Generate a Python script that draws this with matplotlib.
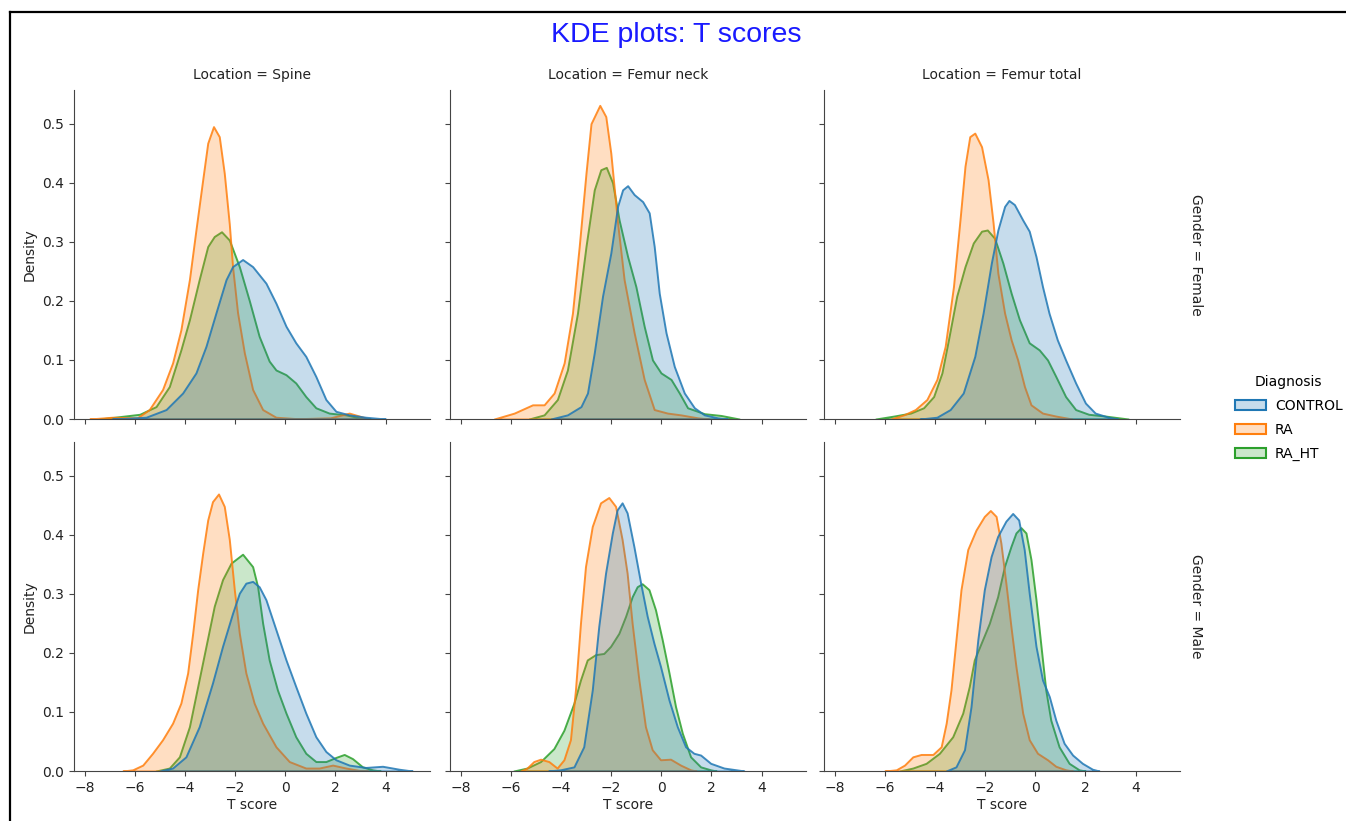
import matplotlib
matplotlib.use("Agg")
import matplotlib.pyplot as plt
from matplotlib.patches import Patch
from matplotlib.lines import Line2D
from matplotlib.colors import to_rgba

# ---------------- data ----------------
locations = ["Spine", "Femur neck", "Femur total"]
genders = ["Female", "Male"]
diagnoses = ["CONTROL", "RA", "RA_HT"]
colors = ["#1f77b4", "#ff7f0e", "#2ca02c"]

# Female, Spine
sf_control_x = [-6.9, -5.55, -4.75, -4.09, -3.56, -3.16, -2.76, -2.36, -2.1, -1.7, -1.3, -0.77, -0.37, 0.03, 0.42, 0.82, 1.22, 1.62, 2.02, 2.55, 3.21, 4.0]
sf_control_y = [0, 0.003, 0.016, 0.044, 0.078, 0.123, 0.18, 0.236, 0.258, 0.27, 0.258, 0.23, 0.196, 0.157, 0.129, 0.106, 0.072, 0.033, 0.013, 0.007, 0.003, 0]
sf_ra_x = [-7.8, -6.9, -5.9, -5.42, -4.89, -4.49, -4.16, -3.82, -3.56, -3.29, -3.09, -2.86, -2.63, -2.43, -2.23, -2.1, -1.9, -1.63, -1.3, -0.9, -0.37, 0.5, 1.8, 2.55, 3.35]
sf_ra_y = [0, 0.003, 0.002, 0.016, 0.05, 0.095, 0.151, 0.236, 0.32, 0.405, 0.467, 0.495, 0.478, 0.416, 0.33, 0.258, 0.18, 0.112, 0.05, 0.016, 0.003, 0.0005, 0.002, 0.01, 0]
sf_ht_x = [-7.4, -5.8, -5.15, -4.62, -4.16, -3.82, -3.43, -3.09, -2.83, -2.54, -2.23, -1.83, -1.43, -1.04, -0.64, -0.37, 0.03, 0.42, 0.82, 1.22, 1.75, 2.42, 2.95, 3.4]
sf_ht_y = [0, 0.008, 0.021, 0.055, 0.117, 0.168, 0.236, 0.292, 0.309, 0.317, 0.303, 0.258, 0.2, 0.14, 0.098, 0.083, 0.075, 0.061, 0.038, 0.019, 0.01, 0.007, 0.002, 0]

# Female, Femur neck
nf_control_x = [-4.4, -3.74, -3.2, -2.94, -2.67, -2.34, -2.01, -1.74, -1.54, -1.34, -1.08, -0.74, -0.48, -0.28, -0.08, 0.19, 0.52, 0.92, 1.32, 1.72, 2.25, 2.65]
nf_control_y = [0, 0.007, 0.021, 0.044, 0.112, 0.208, 0.281, 0.36, 0.388, 0.395, 0.38, 0.368, 0.349, 0.292, 0.213, 0.146, 0.089, 0.044, 0.019, 0.007, 0.002, 0]
nf_ra_x = [-6.66, -5.86, -5.13, -4.67, -4.27, -3.87, -3.54, -3.27, -3.0, -2.8, -2.45, -2.21, -2.01, -1.74, -1.48, -1.08, -0.68, -0.28, 0.25, 0.78, 1.45, 1.9]
nf_ra_y = [0, 0.01, 0.024, 0.024, 0.044, 0.095, 0.179, 0.292, 0.416, 0.5, 0.531, 0.512, 0.45, 0.332, 0.236, 0.146, 0.067, 0.016, 0.01, 0.007, 0.002, 0]
nf_ht_x = [-5.27, -4.67, -4.14, -3.74, -3.34, -3.0, -2.67, -2.41, -2.19, -1.94, -1.68, -1.34, -1.01, -0.68, -0.35, -0.01, 0.39, 0.72, 1.05, 1.72, 2.38, 3.11]
nf_ht_y = [0, 0.007, 0.033, 0.083, 0.179, 0.292, 0.388, 0.422, 0.426, 0.4, 0.337, 0.275, 0.224, 0.157, 0.1, 0.078, 0.067, 0.044, 0.019, 0.009, 0.006, 0]

# Female, Femur total
tf_control_x = [-4.6, -3.92, -3.39, -2.87, -2.41, -2.08, -1.75, -1.49, -1.22, -1.05, -0.83, -0.5, -0.24, 0.03, 0.29, 0.55, 0.88, 1.21, 1.61, 2.0, 2.39, 2.92, 3.3]
tf_control_y = [0, 0.003, 0.016, 0.044, 0.106, 0.179, 0.264, 0.32, 0.36, 0.37, 0.363, 0.337, 0.318, 0.275, 0.224, 0.179, 0.134, 0.1, 0.061, 0.027, 0.01, 0.003, 0]
tf_ra_x = [-5.76, -5.24, -4.78, -4.32, -3.92, -3.59, -3.26, -3.0, -2.8, -2.61, -2.41, -2.14, -1.88, -1.68, -1.49, -1.22, -0.96, -0.7, -0.43, -0.17, 0.29, 0.82, 1.47]
tf_ra_y = [0, 0.007, 0.016, 0.033, 0.067, 0.123, 0.224, 0.337, 0.428, 0.478, 0.484, 0.461, 0.405, 0.332, 0.247, 0.179, 0.134, 0.1, 0.055, 0.024, 0.01, 0.005, 0]
tf_ht_x = [-6.36, -5.63, -4.97, -4.45, -4.05, -3.72, -3.46, -3.13, -2.8, -2.47, -2.14, -1.91, -1.62, -1.29, -0.96, -0.63, -0.24, 0.16, 0.49, 0.82, 1.21, 1.61, 2.13, 2.79, 3.71]
tf_ht_y = [0, 0.005, 0.01, 0.019, 0.038, 0.078, 0.134, 0.208, 0.258, 0.298, 0.318, 0.32, 0.306, 0.264, 0.213, 0.168, 0.129, 0.117, 0.1, 0.072, 0.038, 0.016, 0.008, 0.005, 0]

# Male, Spine
sm_control_x = [-5.0, -4.49, -3.96, -3.43, -2.9, -2.5, -2.1, -1.83, -1.57, -1.3, -1.04, -0.77, -0.37, 0.03, 0.42, 0.82, 1.22, 1.62, 2.02, 2.55, 3.21, 3.88, 4.54, 5.07]
sm_control_y = [0, 0.005, 0.024, 0.075, 0.149, 0.211, 0.267, 0.301, 0.318, 0.321, 0.312, 0.29, 0.239, 0.188, 0.143, 0.098, 0.058, 0.033, 0.019, 0.01, 0.006, 0.008, 0.003, 0]
sm_ra_x = [-6.48, -6.08, -5.68, -5.29, -4.89, -4.49, -4.16, -3.89, -3.69, -3.49, -3.29, -3.09, -2.9, -2.66, -2.43, -2.23, -2.03, -1.83, -1.57, -1.24, -0.9, -0.37, 0.16, 0.82, 1.35, 1.89, 2.42, 2.95, 3.3]
sm_ra_y = [0, 0.002, 0.01, 0.03, 0.053, 0.081, 0.115, 0.166, 0.233, 0.307, 0.369, 0.425, 0.456, 0.469, 0.448, 0.392, 0.307, 0.233, 0.166, 0.115, 0.081, 0.041, 0.016, 0.005, 0.005, 0.01, 0.005, 0.001, 0]
sm_ht_x = [-5.15, -4.62, -4.22, -3.82, -3.49, -3.16, -2.83, -2.5, -2.16, -1.7, -1.3, -1.1, -0.9, -0.64, -0.31, 0.03, 0.42, 0.82, 1.22, 1.62, 2.02, 2.35, 2.68, 3.08, 3.48, 3.8]
sm_ht_y = [0, 0.005, 0.024, 0.075, 0.143, 0.211, 0.279, 0.324, 0.352, 0.367, 0.346, 0.312, 0.25, 0.188, 0.137, 0.098, 0.058, 0.03, 0.016, 0.016, 0.023, 0.028, 0.021, 0.007, 0.002, 0]

# Male, Femur neck
nm_control_x = [-4.5, -4.02, -3.48, -3.09, -2.75, -2.49, -2.22, -1.95, -1.76, -1.56, -1.36, -1.09, -0.82, -0.56, -0.29, -0.03, 0.31, 0.64, 0.97, 1.3, 1.57, 1.97, 2.5, 3.16, 3.3]
nm_control_y = [0, 0.002, 0.007, 0.041, 0.137, 0.245, 0.335, 0.403, 0.442, 0.454, 0.437, 0.38, 0.318, 0.262, 0.216, 0.177, 0.12, 0.075, 0.041, 0.03, 0.027, 0.013, 0.005, 0.001, 0]
nm_ra_x = [-5.61, -5.35, -5.08, -4.81, -4.48, -4.15, -3.88, -3.62, -3.42, -3.22, -3.02, -2.75, -2.42, -2.09, -1.82, -1.56, -1.36, -1.16, -0.89, -0.63, -0.36, -0.03, 0.37, 0.77, 1.17, 1.4]
nm_ra_y = [0, 0.005, 0.016, 0.02, 0.016, 0.005, 0.019, 0.053, 0.137, 0.25, 0.346, 0.414, 0.454, 0.463, 0.448, 0.392, 0.335, 0.25, 0.154, 0.075, 0.036, 0.019, 0.02, 0.01, 0.002, 0]
nm_ht_x = [-5.88, -5.35, -4.81, -4.28, -3.88, -3.48, -3.22, -2.95, -2.62, -2.29, -2.02, -1.69, -1.42, -1.16, -0.96, -0.76, -0.49, -0.23, 0.04, 0.31, 0.57, 0.84, 1.17, 1.57, 1.97, 2.2]
nm_ht_y = [0, 0.005, 0.016, 0.038, 0.069, 0.115, 0.154, 0.188, 0.197, 0.199, 0.211, 0.233, 0.262, 0.295, 0.312, 0.317, 0.307, 0.273, 0.222, 0.166, 0.109, 0.064, 0.024, 0.007, 0.002, 0]

# Male, Femur total
tm_control_x = [-3.55, -3.16, -2.82, -2.56, -2.29, -2.03, -1.76, -1.5, -1.17, -0.9, -0.66, -0.44, -0.24, 0.03, 0.29, 0.56, 0.82, 1.15, 1.49, 1.88, 2.28, 2.55]
tm_control_y = [0, 0.007, 0.036, 0.109, 0.222, 0.307, 0.363, 0.397, 0.423, 0.436, 0.425, 0.375, 0.301, 0.211, 0.154, 0.126, 0.086, 0.047, 0.027, 0.013, 0.003, 0]
tm_ra_x = [-6.0, -5.54, -5.21, -4.88, -4.55, -4.08, -3.75, -3.55, -3.36, -3.16, -2.96, -2.69, -2.36, -2.03, -1.79, -1.56, -1.37, -1.17, -0.97, -0.77, -0.5, -0.24, 0.09, 0.49, 0.82, 1.22, 1.5]
tm_ra_y = [0, 0.002, 0.01, 0.024, 0.028, 0.028, 0.041, 0.081, 0.137, 0.222, 0.307, 0.375, 0.408, 0.431, 0.441, 0.431, 0.386, 0.318, 0.245, 0.177, 0.098, 0.053, 0.03, 0.019, 0.008, 0.002, 0]
tm_ht_x = [-5.41, -4.88, -4.35, -3.82, -3.29, -2.89, -2.63, -2.43, -2.16, -1.83, -1.5, -1.23, -0.97, -0.77, -0.57, -0.37, -0.17, 0.03, 0.23, 0.42, 0.62, 0.95, 1.35, 1.75, 2.0]
tm_ht_y = [0, 0.005, 0.013, 0.03, 0.058, 0.098, 0.143, 0.188, 0.216, 0.25, 0.295, 0.346, 0.38, 0.403, 0.412, 0.403, 0.358, 0.29, 0.211, 0.137, 0.086, 0.041, 0.013, 0.002, 0]

x_ticks = [-8, -6, -4, -2, 0, 2, 4]
x_tick_labels = ["\u22128", "\u22126", "\u22124", "\u22122", "0", "2", "4"]
y_ticks = [0.0, 0.1, 0.2, 0.3, 0.4, 0.5]
y_tick_labels = ["0.0", "0.1", "0.2", "0.3", "0.4", "0.5"]

curves = {
    ("Female", "Spine"): [(sf_control_x, sf_control_y), (sf_ra_x, sf_ra_y), (sf_ht_x, sf_ht_y)],
    ("Female", "Femur neck"): [(nf_control_x, nf_control_y), (nf_ra_x, nf_ra_y), (nf_ht_x, nf_ht_y)],
    ("Female", "Femur total"): [(tf_control_x, tf_control_y), (tf_ra_x, tf_ra_y), (tf_ht_x, tf_ht_y)],
    ("Male", "Spine"): [(sm_control_x, sm_control_y), (sm_ra_x, sm_ra_y), (sm_ht_x, sm_ht_y)],
    ("Male", "Femur neck"): [(nm_control_x, nm_control_y), (nm_ra_x, nm_ra_y), (nm_ht_x, nm_ht_y)],
    ("Male", "Femur total"): [(tm_control_x, tm_control_y), (tm_ra_x, tm_ra_y), (tm_ht_x, tm_ht_y)],
}

# ---------------- figure ----------------
W, H = 1346, 821
plt.rcParams["font.family"] = ["DejaVu Sans"]
fig = plt.figure(figsize=(W / 100, H / 100), dpi=100)
small = 10
txt = "#222222"

lefts = [74, 450, 824]
tops = [90, 442]
aw, ah = 356, 329

for r, g in enumerate(genders):
    for c, loc in enumerate(locations):
        ax = fig.add_axes([lefts[c] / W, 1 - (tops[r] + ah) / H, aw / W, ah / H])
        for i in [2, 1, 0]:
            xs, ys = curves[(g, loc)][i]
            ax.fill_between(xs, 0, ys, facecolor=to_rgba(colors[i], 0.25),
                            edgecolor=to_rgba(colors[i], 0.85), linewidth=1.4)
        ax.set_xlim(-8.42, 5.77)
        ax.set_ylim(0, 0.557)
        ax.set_xticks(x_ticks)
        ax.set_yticks(y_ticks)
        for s in ["top", "right"]:
            ax.spines[s].set_visible(False)
        for s in ["left", "bottom"]:
            ax.spines[s].set_color("#444444")
        ax.tick_params(colors="#444444", labelcolor=txt, labelsize=small)
        if c == 0:
            ax.set_ylabel("Density", fontsize=small, color=txt)
            ax.set_yticklabels(y_tick_labels)
        else:
            ax.set_yticklabels([])
        if r == 1:
            ax.set_xlabel("T score", fontsize=small, color=txt, labelpad=2)
            ax.set_xticklabels(x_tick_labels)
        else:
            ax.set_xticklabels([])
        if r == 0:
            ax.set_title(f"Location = {loc}", fontsize=small, color=txt, pad=8)
        if c == 2:
            ax.text(1.045, 0.5, f"Gender = {g}", transform=ax.transAxes, rotation=270,
                    ha="center", va="center", fontsize=small, color=txt)

fig.text(676 / W, 1 - 35 / H, "KDE plots: T scores", color="#1a1aff", fontsize=20.5,
         family="Liberation Sans", ha="center", va="center")

handles = [Patch(facecolor=to_rgba(col, 0.25), edgecolor=col, linewidth=1.5) for col in colors]
fig.legend(handles, diagnoses, title="Diagnosis", loc="center left",
           bbox_to_anchor=(1222 / W, 1 - 418 / H), frameon=False, fontsize=small,
           title_fontsize=small, handlelength=2.3, handleheight=0.75, handletextpad=0.6,
           labelspacing=0.7)

# screenshot border (top and left)
fig.add_artist(Line2D([10 / W, 1], [1 - 12 / H, 1 - 12 / H], color="black", linewidth=1.6,
                      transform=fig.transFigure))
fig.add_artist(Line2D([10 / W, 10 / W], [0, 1 - 12 / H], color="black", linewidth=1.6,
                      transform=fig.transFigure))

fig.savefig("out.png", dpi=100)
